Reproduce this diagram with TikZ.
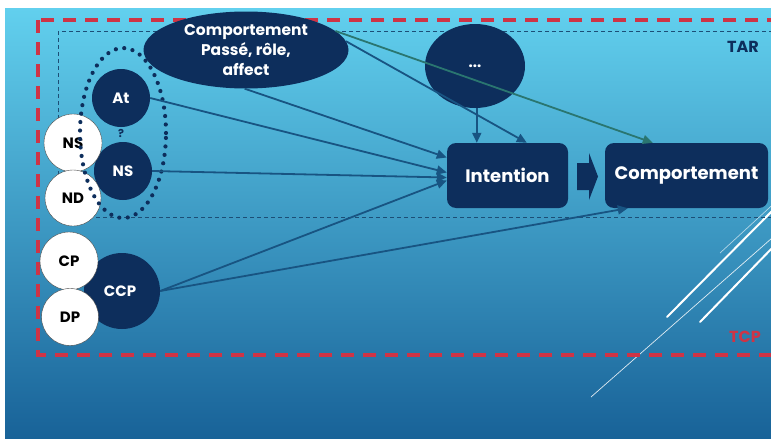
\documentclass[tikz,border=0pt]{standalone}
\usepackage{fontspec}
\setmainfont{Poppins}
\usetikzlibrary{shapes.geometric,arrows.meta,calc}
\definecolor{navy}{RGB}{13,46,92}
\definecolor{bgtop}{RGB}{98,208,238}
\definecolor{bgmid}{RGB}{55,156,206}
\definecolor{bgbot}{RGB}{24,98,152}
\definecolor{linec}{RGB}{24,84,130}
\definecolor{greenl}{RGB}{42,118,112}
\definecolor{redd}{RGB}{206,52,70}
\definecolor{thind}{RGB}{28,78,118}
\tikzset{
  darknode/.style={fill=navy, text=white, font=\fontsize{15}{18}\selectfont\bfseries, inner sep=0pt},
  darkcirc/.style={darknode, circle},
  whitecirc/.style={circle, fill=white, draw=gray!60!black, line width=0.4pt, text=black, inner sep=0pt, font=\fontsize{15}{18}\selectfont\bfseries},
  boxnode/.style={darknode, rectangle, rounded corners=9pt, font=\fontsize{18}{20}\selectfont\bfseries},
  conn/.style={draw=linec, line width=1.8pt, -{Triangle[length=10pt,width=9pt]}},
  greenconn/.style={conn, draw=greenl, fill=greenl},
}
\begin{document}
\begin{tikzpicture}[x=1pt,y=-1pt]
\useasboundingbox (0,0) rectangle (771,439);
\clip (0,0) rectangle (771,439);
\fill[white] (0,0) rectangle (771,439);
\shade[top color=bgtop, middle color=bgmid, bottom color=bgbot] (5,8) rectangle (771,439);

% decorative lines
\draw[white, line width=2pt, line cap=round] (667,317) -- (780,203);
\draw[white, line width=2pt, line cap=round] (700,322) -- (780,240);
\draw[white, opacity=0.85, line width=0.7pt] (591,397) -- (780,231);
\draw[white, opacity=0.6, line width=0.7pt] (720,253) -- (780,198);

% frames
\draw[redd, line width=3.2pt, dash pattern=on 13pt off 9pt] (38,20) rectangle (800,355);
\draw[thind, line width=0.8pt, dash pattern=on 4pt off 3pt] (58,31) rectangle (800,217);
\node[text=navy, font=\fontsize{16}{18}\selectfont\bfseries] (tar) at (743,47) {TAR};
\node[text=redd, font=\fontsize{16}{18}\selectfont\bfseries] (tcp) at (745,337) {TCP};

% nodes
\node[darknode, ellipse, minimum width=205pt, minimum height=77pt, align=center,
      font=\fontsize{15.5}{20}\selectfont\bfseries] (ell) at (246,50) {Comportement\\Passé, rôle,\\affect};
\node[darknode, ellipse, minimum width=100pt, minimum height=84pt] (etc) at (475,66) {...};
\node[boxnode, minimum width=121pt, minimum height=65pt] (int) at (507.5,175.5) {Intention};
\node[boxnode, minimum width=163pt, minimum height=65pt] (comp) at (686.5,175.5) {Comportement};
\fill[navy] (577,163) -- (589,163) -- (589,153) -- (598,176.5) -- (589,200) -- (589,190) -- (577,190) -- cycle;

\node[darkcirc, minimum size=58pt] (at) at (121,98) {At};
\node[darkcirc, minimum size=58pt] (nsd) at (123,171) {NS};
\node[darkcirc, minimum size=76pt] (ccp) at (122,291) {\hspace*{-4pt}CCP};
\node[whitecirc, minimum size=58pt] (nsw) at (73,143) {NS};
\node[whitecirc, minimum size=56pt] (ndw) at (73,198) {ND};
\node[whitecirc, minimum size=58pt] (cpw) at (69,261) {CP};
\node[whitecirc, minimum size=57pt] (dpw) at (70,317) {DP};
\node[text=navy, font=\fontsize{11}{12}\selectfont\bfseries] (q) at (121,133) {?};
\node[ellipse, draw=navy, line width=4.2pt, dash pattern=on 0pt off 8.5pt, line cap=round,
      minimum width=86pt, minimum height=170pt] (grp) at (123,133) {};

% connectors
\coordinate (ttop) at ($(int.north west)+(30,0)$);
\draw[greenconn] (ell.12) -- ($(comp.north west)+(48,0)$);
\draw[conn] (ell.5) -- ($(int.north west)+(80,0)$);
\draw[conn] (ell.-92) -- ($(int.west)+(0,-18)$);
\draw[conn] (at.east) -- ($(int.west)+(0,-3)$);
\draw[conn] (nsd.east) -- ($(int.west)+(0,2)$);
\draw[conn] (ccp.east) -- ($(int.west)+(0,5)$);
\draw[conn] (ccp.east) -- ($(comp.south west)+(23,0)$);
\draw[conn] (ttop |- etc.south) -- (ttop);
\end{tikzpicture}
\end{document}
